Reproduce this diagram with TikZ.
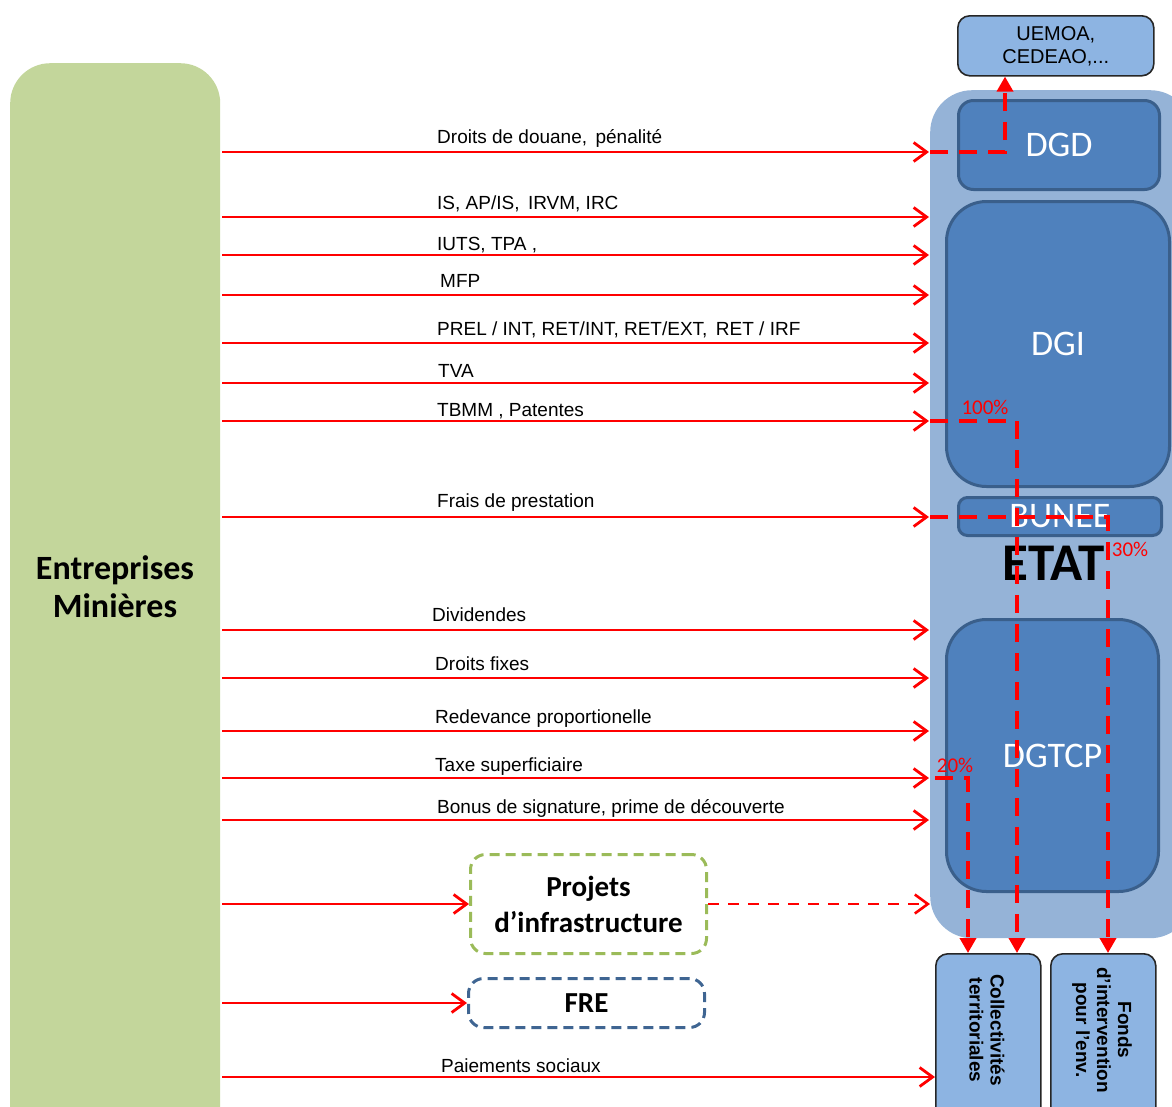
\documentclass[tikz,border=0pt]{standalone}
\usepackage{fontspec}
\setmainfont{Liberation Sans}
\newfontfamily\calfont{Carlito}
\usetikzlibrary{arrows.meta}
\definecolor{entgreen}{HTML}{C3D69B}
\definecolor{etatblue}{HTML}{95B3D7}
\definecolor{inblue}{HTML}{4F81BD}
\definecolor{inborder}{HTML}{3A5F8B}
\definecolor{lightbox}{HTML}{8DB4E2}
\definecolor{projgreen}{HTML}{9BBB59}
\definecolor{frebord}{HTML}{3F6592}
\tikzset{
  flow/.style={draw=red, line width=2.8pt, -{Straight Barb[length=13pt,width=19pt]}},
  dflow/.style={draw=red, line width=3.6pt, dash pattern=on 18pt off 11pt, -{Triangle[length=15pt,width=16pt]}},
  pflow/.style={draw=red, line width=2.6pt, dash pattern=on 11pt off 9pt, -{Straight Barb[length=13pt,width=19pt]}},
  lbl/.style={anchor=base west, inner sep=0pt, font=\fontsize{19}{22}\selectfont},
  inbox/.style={draw=inborder, fill=inblue, line width=3pt, anchor=north west, text=white, font=\calfont\fontsize{36}{40}\selectfont},
  lightnode/.style={draw=black!85, fill=lightbox, line width=1.6pt, anchor=north west, rounded corners=12pt},
  rottext/.style={rotate=-90, align=center, font=\bfseries\fontsize{19}{21}\selectfont},
  pct/.style={text=red, inner sep=0pt, font=\calfont\fontsize{21}{24}\selectfont},
  dashbox/.style={line width=3pt, dash pattern=on 10pt off 6pt, rounded corners=15pt, anchor=north west, align=center, font=\calfont\bfseries\fontsize{29}{36}\selectfont}
}
\begin{document}
\begin{tikzpicture}[x=1pt,y=-1pt]
\useasboundingbox (0,0) rectangle (1172,1106);
\clip (0,0) rectangle (1172,1106);
% main boxes
\node[fill=entgreen, rounded corners=40pt, minimum width=210pt, minimum height=1100pt, anchor=north west, inner sep=0pt] (ent) at (10,63) {};
\node[align=center, font=\calfont\bfseries\fontsize{34}{38}\selectfont] (enttext) at (115,587) {Entreprises\\Minières};
\node[fill=etatblue, rounded corners=42pt, minimum width=262pt, minimum height=848pt, anchor=north west, inner sep=0pt] (etat) at (930,90) {};
\node[inbox, rounded corners=15pt, minimum width=201pt, minimum height=89pt] (dgd) at (957,99) {DGD};
\node[inbox, rounded corners=40pt, minimum width=223pt, minimum height=285pt] (dgi) at (945,200) {DGI};
\node[inbox, rounded corners=9pt, minimum width=203pt, minimum height=38pt, inner sep=0pt] (bunee) at (957,496) {BUNEE};
\node[inbox, rounded corners=40pt, minimum width=212pt, minimum height=272pt] (dgtcp) at (945,618) {DGTCP};
\node[font=\calfont\bfseries\fontsize{53}{55}\selectfont] (etatlbl) at (1054,563) {ETAT};
\node[lightnode, minimum width=196pt, minimum height=60pt, align=center, font=\fontsize{20}{23}\selectfont] (uemoa) at (957,15) {UEMOA,\\CEDEAO,...};
\node[lightnode, minimum width=105pt, minimum height=200pt] (coll) at (935,953) {};
\node[lightnode, minimum width=105pt, minimum height=200pt] (fonds) at (1050,953) {};
\node[rottext] (colltext) at (987,1030) {Collectivités\\territoriales};
\node[rottext] (fondstext) at (1102,1030) {Fonds\\d'intervention\\pour l'env.};
\node[dashbox, draw=projgreen, minimum width=236pt, minimum height=99pt] (proj) at (469,853) {Projets\\d’infrastructure};
\node[dashbox, draw=frebord, minimum width=236pt, minimum height=49pt] (fre) at (467,977) {FRE};
% rows
\coordinate (r1) at (0,152);
\coordinate (r2) at (0,217);
\coordinate (r3) at (0,255);
\coordinate (r4) at (0,295);
\coordinate (r5) at (0,343);
\coordinate (r6) at (0,383);
\coordinate (r7) at (0,421);
\coordinate (r8) at (0,517);
\coordinate (r9) at (0,630);
\coordinate (r10) at (0,678);
\coordinate (r11) at (0,731);
\coordinate (r12) at (0,778);
\coordinate (r13) at (0,820);
\coordinate (r14) at (0,1077);
\node[lbl] (l1) at (437,143) {Droits de douane,\, pénalité};
\node[lbl] (l2) at (437,209) {IS, AP/IS,\, IRVM, IRC};
\node[lbl] (l3) at (437,250) {IUTS, TPA ,};
\node[lbl] (l4) at (440,287) {MFP};
\node[lbl] (l5) at (437,335) {PREL / INT, RET/INT, RET/EXT,\, RET / IRF};
\node[lbl] (l6) at (438,377) {TVA};
\node[lbl] (l7) at (437,416) {TBMM , Patentes};
\node[lbl] (l8) at (437,507) {Frais de prestation};
\node[lbl] (l9) at (432,621) {Dividendes};
\node[lbl] (l10) at (435,670) {Droits fixes};
\node[lbl] (l11) at (435,723) {Redevance proportionelle};
\node[lbl] (l12) at (435,771) {Taxe superficiaire};
\node[lbl] (l13) at (437,813) {Bonus de signature, prime de découverte};
\node[lbl] (l14) at (441,1072) {Paiements sociaux};
\foreach \r in {r1,r2,r3,r4,r5,r6,r7,r8,r9,r10,r11,r12,r13}
  \draw[flow] ([xshift=2pt]ent.east |- \r) -- ([xshift=-1pt]etat.west |- \r);
\draw[flow] ([xshift=2pt]ent.east |- r14) -- (coll.west |- r14);
\draw[flow] ([xshift=2pt]ent.east |- proj.west) -- (proj.west);
\draw[flow] ([xshift=2pt]ent.east |- fre.west) -- (fre.west);
\draw[pflow] (proj.east) -- (etat.west |- proj.east);
% dashed redistribution
\coordinate (c1) at (1005,0);
\coordinate (c2) at (1017,0);
\coordinate (c3) at (1108,0);
\coordinate (c4) at (968,0);
\draw[dflow] (etat.west |- r1) -| (c1 |- uemoa.south);
\draw[dflow] (etat.west |- r7) -| (c2 |- coll.north);
\draw[dflow] (etat.west |- r8) -| (c3 |- fonds.north);
\draw[dflow] ([xshift=5pt]etat.west |- r12) -| (c4 |- coll.north);
\node[pct] (p100) at (985,407) {100\%};
\node[pct] (p30) at (1130,549) {30\%};
\node[pct] (p20) at (955,765) {20\%};
\end{tikzpicture}
\end{document}
